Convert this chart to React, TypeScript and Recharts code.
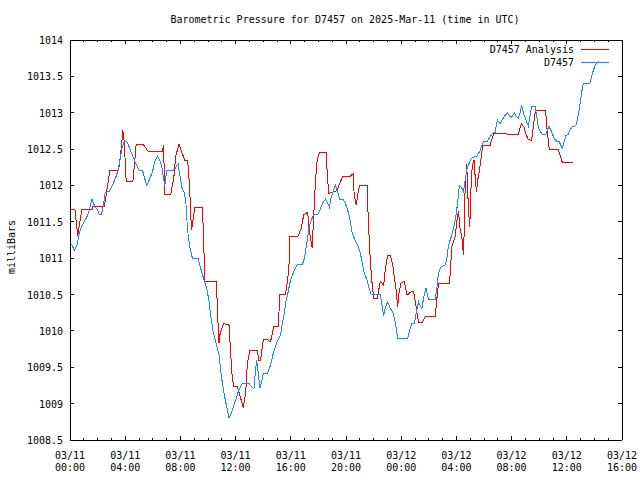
import { LineChart, Line, XAxis, YAxis, Customized } from "recharts";

// hours since 03/11 00:00 UTC
const hourTicks = Array.from({ length: 41 }, (_, i) => i);
const majorHours = [0, 4, 8, 12, 16, 20, 24, 28, 32, 36, 40];
const dateLabels = ["03/11", "03/11", "03/11", "03/11", "03/11", "03/11", "03/12", "03/12", "03/12", "03/12", "03/12"];
const timeLabels = ["00:00", "04:00", "08:00", "12:00", "16:00", "20:00", "00:00", "04:00", "08:00", "12:00", "16:00"];
const pressureTicks = [1008.5, 1009, 1009.5, 1010, 1010.5, 1011, 1011.5, 1012, 1012.5, 1013, 1013.5, 1014];

const seriesNames = ["D7457 Analysis", "D7457"];
const seriesColors = ["#ff0000", "#1a8cff"];

const analysisHours = [
  0.05, 0.36, 0.56, 0.67, 0.87, 1.64, 1.66, 2.48, 2.73, 2.89,
  3.52, 3.62, 3.76, 3.83, 3.93, 4.07, 4.56, 4.7, 4.79, 5.33,
  5.66, 6.7, 6.78, 6.87, 7.3, 7.52, 7.66, 7.9, 8.03, 8.32,
  8.53, 8.66, 8.8, 8.86, 9.04, 9.6, 9.78, 10.61, 10.7, 10.8,
  10.87, 11.11, 11.52, 11.64, 11.76, 11.88, 12.13, 12.36, 12.56, 12.73,
  12.85, 13.04, 13.57, 13.69, 13.81, 14.01, 14.3, 14.53, 14.77, 15.09,
  15.21, 15.62, 15.76, 15.86, 15.93, 16.51, 16.74, 16.94, 17.23, 17.32,
  17.55, 17.64, 17.79, 17.91, 18.08, 18.56, 18.66, 18.75, 19.36, 19.55,
  19.79, 20.32, 20.51, 20.6, 20.75, 20.87, 20.99, 21.53, 21.6, 21.72,
  21.84, 22.0, 22.25, 22.36, 22.49, 22.73, 22.85, 23.02, 23.21, 23.38,
  23.5, 23.64, 23.74, 23.84, 23.98, 24.22, 24.42, 24.73, 24.9, 25.02,
  25.26, 25.5, 25.74, 26.46, 26.59, 26.7, 27.5, 27.6, 27.67, 27.91,
  28.03, 28.15, 28.27, 28.4, 28.51, 28.56, 28.63, 28.75, 28.82, 28.92,
  28.97, 29.04, 29.12, 29.19, 29.28, 29.36, 29.45, 29.55, 29.67, 29.77,
  29.91, 30.44, 30.56, 30.73, 31.6, 31.69, 32.49, 32.61, 32.73, 32.9,
  33.04, 33.21, 33.45, 33.57, 33.7, 33.77, 34.47, 34.54, 34.66, 34.73,
  35.38, 35.5, 35.67, 36.46,
];
const analysisValues = [
  1011.67, 1011.67, 1011.3, 1011.45, 1011.67, 1011.67, 1011.71, 1011.71, 1012.0, 1012.21,
  1012.21, 1012.35, 1012.6, 1012.76, 1012.6, 1012.06, 1012.06, 1012.35, 1012.56, 1012.56,
  1012.47, 1012.47, 1012.55, 1011.88, 1011.88, 1012.1, 1012.4, 1012.57, 1012.5, 1012.34,
  1012.34, 1012.0, 1011.39, 1011.45, 1011.7, 1011.7, 1010.68, 1010.68, 1010.2, 1009.83,
  1009.95, 1010.1, 1010.08, 1009.7, 1009.35, 1009.23, 1009.23, 1009.08, 1008.94, 1009.15,
  1009.55, 1009.73, 1009.73, 1009.6, 1009.6, 1009.88, 1009.88, 1009.85, 1010.06, 1010.06,
  1010.5, 1010.5, 1010.7, 1010.86, 1011.3, 1011.3, 1011.4, 1011.6, 1011.63, 1011.4,
  1011.14, 1011.5, 1012.08, 1012.35, 1012.46, 1012.46, 1012.1, 1011.89, 1011.93, 1012.03,
  1012.13, 1012.13, 1012.16, 1011.85, 1011.73, 1011.9, 1012.0, 1012.0, 1011.6, 1011.11,
  1010.75, 1010.45, 1010.44, 1010.55, 1010.68, 1010.63, 1010.85, 1011.04, 1011.04, 1010.92,
  1010.74, 1010.56, 1010.33, 1010.52, 1010.66, 1010.68, 1010.49, 1010.54, 1010.54, 1010.4,
  1010.11, 1010.11, 1010.2, 1010.2, 1010.45, 1010.65, 1010.65, 1010.95, 1011.16, 1011.3,
  1011.5, 1011.65, 1011.4, 1011.28, 1011.04, 1011.35, 1011.95, 1012.3, 1011.9, 1011.54,
  1011.43, 1011.9, 1012.19, 1012.3, 1012.35, 1012.12, 1011.91, 1012.08, 1012.2, 1012.35,
  1012.55, 1012.55, 1012.63, 1012.72, 1012.72, 1012.7, 1012.7, 1012.79, 1012.85, 1012.8,
  1012.71, 1012.63, 1012.62, 1012.81, 1012.99, 1013.03, 1013.03, 1012.83, 1012.62, 1012.5,
  1012.5, 1012.42, 1012.32, 1012.32,
];

const stationHours = [
  0.0, 0.14, 0.31, 0.51, 0.67, 0.8, 1.03, 1.28, 1.45, 1.59,
  1.76, 2.0, 2.12, 2.29, 2.44, 2.55, 2.84, 3.09, 3.33, 3.49,
  3.64, 3.76, 3.93, 4.12, 4.29, 4.53, 4.77, 5.01, 5.26, 5.42,
  5.57, 5.73, 5.98, 6.15, 6.34, 6.53, 6.65, 6.78, 6.87, 7.01,
  7.43, 7.61, 7.83, 7.95, 8.1, 8.26, 8.39, 8.46, 8.57, 8.7,
  8.87, 9.28, 9.47, 9.71, 9.91, 10.07, 10.2, 10.39, 10.56, 10.8,
  10.92, 11.04, 11.16, 11.35, 11.52, 11.69, 11.84, 12.0, 12.24, 12.49,
  12.96, 13.21, 13.33, 13.4, 13.52, 13.62, 13.76, 13.88, 14.01, 14.3,
  14.53, 14.73, 14.97, 15.26, 15.38, 15.55, 15.62, 15.77, 15.98, 16.22,
  16.46, 16.83, 16.99, 17.14, 17.3, 17.43, 17.66, 17.95, 18.15, 18.32,
  18.51, 18.68, 18.8, 18.92, 19.07, 19.23, 19.36, 19.55, 19.83, 20.08,
  20.27, 20.44, 20.61, 20.85, 21.04, 21.16, 21.33, 21.53, 21.64, 21.82,
  22.49, 22.61, 22.73, 22.85, 23.02, 23.21, 23.4, 23.57, 23.74, 24.47,
  24.6, 24.76, 24.95, 25.09, 25.26, 25.38, 25.5, 25.62, 25.79, 25.98,
  26.46, 26.59, 26.7, 26.88, 27.19, 27.31, 27.43, 27.67, 27.79, 27.96,
  28.08, 28.22, 28.4, 28.51, 28.63, 28.75, 28.87, 29.04, 29.23, 29.48,
  29.72, 29.96, 30.25, 30.44, 30.68, 30.8, 30.97, 31.17, 31.4, 31.69,
  31.88, 32.01, 32.2, 32.32, 32.49, 32.61, 32.73, 32.85, 33.04, 33.21,
  33.33, 33.45, 33.7, 33.82, 33.93, 34.05, 34.25, 34.49, 34.58, 34.71,
  34.9, 35.07, 35.26, 35.45, 35.58, 35.67, 35.79, 35.94, 36.1, 36.22,
  36.42, 36.66, 36.75, 36.9, 37.07, 37.19, 37.67, 37.87, 38.03, 38.2,
  38.32,
];
const stationValues = [
  1011.2, 1011.18, 1011.11, 1011.18, 1011.34, 1011.42, 1011.5, 1011.59, 1011.7, 1011.81,
  1011.73, 1011.66, 1011.6, 1011.6, 1011.75, 1011.9, 1011.92, 1012.01, 1012.12, 1012.21,
  1012.37, 1012.51, 1012.6, 1012.6, 1012.53, 1012.41, 1012.3, 1012.21, 1012.2, 1012.09,
  1012.0, 1012.07, 1012.19, 1012.33, 1012.4, 1012.33, 1012.26, 1012.1, 1012.0, 1012.2,
  1012.2, 1012.23, 1012.3, 1012.15, 1011.98, 1011.91, 1011.8, 1011.55, 1011.3, 1011.14,
  1011.0, 1011.0, 1010.86, 1010.7, 1010.59, 1010.41, 1010.2, 1009.97, 1009.85, 1009.67,
  1009.46, 1009.28, 1009.14, 1008.96, 1008.81, 1008.86, 1008.96, 1009.05, 1009.19, 1009.28,
  1009.28, 1009.22, 1009.2, 1009.37, 1009.6, 1009.46, 1009.21, 1009.3, 1009.41, 1009.41,
  1009.53, 1009.69, 1009.83, 1009.95, 1010.1, 1010.26, 1010.38, 1010.5, 1010.7, 1010.82,
  1010.91, 1010.91, 1011.0, 1011.18, 1011.39, 1011.5, 1011.6, 1011.6, 1011.68, 1011.76,
  1011.81, 1011.75, 1011.7, 1011.83, 1011.92, 1012.0, 1011.93, 1011.81, 1011.8, 1011.69,
  1011.55, 1011.36, 1011.27, 1011.18, 1011.07, 1010.95, 1010.79, 1010.7, 1010.61, 1010.5,
  1010.5, 1010.35, 1010.21, 1010.32, 1010.4, 1010.31, 1010.25, 1010.12, 1009.9, 1009.9,
  1010.0, 1010.1, 1010.1, 1010.25, 1010.4, 1010.35, 1010.31, 1010.45, 1010.59, 1010.43,
  1010.43, 1010.6, 1010.79, 1010.88, 1010.91, 1011.0, 1011.18, 1011.32, 1011.41, 1011.57,
  1011.75, 1012.0, 1011.96, 1011.91, 1012.07, 1012.21, 1012.28, 1012.36, 1012.39, 1012.4,
  1012.48, 1012.6, 1012.61, 1012.67, 1012.73, 1012.73, 1012.9, 1012.85, 1012.93, 1013.0,
  1012.95, 1012.94, 1013.0, 1012.95, 1012.92, 1013.0, 1013.1, 1013.0, 1012.9, 1012.82,
  1012.95, 1013.09, 1013.09, 1012.95, 1012.81, 1012.75, 1012.7, 1012.7, 1012.76, 1012.81,
  1012.74, 1012.65, 1012.61, 1012.6, 1012.55, 1012.51, 1012.59, 1012.69, 1012.7, 1012.76,
  1012.81, 1012.82, 1012.9, 1013.04, 1013.27, 1013.4, 1013.4, 1013.55, 1013.64, 1013.69,
  1013.7,
];

const analysisData = analysisHours.map((t, i) => ({ t, p: analysisValues[i] }));
const stationData = stationHours.map((t, i) => ({ t, p: stationValues[i] }));

const FONT = "DejaVu Sans Mono";
const MAJOR = 4;
const MINOR = 2;

function BottomTick({ x, y, payload }: any) {
  const h = payload.value;
  const i = majorHours.indexOf(h);
  const len = i >= 0 ? MAJOR : MINOR;
  return (
    <g>
      <line x1={x} x2={x} y1={y} y2={y - len} stroke="#000" shapeRendering="crispEdges" />
      {i >= 0 && (
        <text x={x} y={y + 19} textAnchor="middle" fontFamily={FONT} fontSize={10} fill="#000">
          {dateLabels[i]}
        </text>
      )}
      {i >= 0 && (
        <text x={x} y={y + 31} textAnchor="middle" fontFamily={FONT} fontSize={10} fill="#000">
          {timeLabels[i]}
        </text>
      )}
    </g>
  );
}

function TopTick({ x, y, payload }: any) {
  const len = majorHours.includes(payload.value) ? MAJOR : MINOR;
  return <line x1={x} x2={x} y1={y} y2={y + len} stroke="#000" shapeRendering="crispEdges" />;
}

function LeftTick({ x, y, payload }: any) {
  return (
    <g>
      <line x1={x} x2={x + MAJOR} y1={y} y2={y} stroke="#000" shapeRendering="crispEdges" />
      <text x={x - 7} y={y + 4} textAnchor="end" fontFamily={FONT} fontSize={10} fill="#000">
        {String(payload.value)}
      </text>
    </g>
  );
}

function RightTick({ x, y }: any) {
  return <line x1={x} x2={x - MAJOR} y1={y} y2={y} stroke="#000" shapeRendering="crispEdges" />;
}

function Annotations() {
  return (
    <g fontFamily={FONT} fontSize={10} fill="#000">
      <text x={345} y={23} textAnchor="middle">
        Barometric Pressure for D7457 on 2025-Mar-11 (time in UTC)
      </text>
      <text x={15} y={247} textAnchor="middle" transform="rotate(-90 15 247)">
        milliBars
      </text>
      {seriesNames.map((name, i) => (
        <g key={name}>
          <text x={574} y={53 + i * 13} textAnchor="end">
            {name}
          </text>
          <line x1={581} x2={609} y1={49 + i * 13} y2={49 + i * 13} stroke={seriesColors[i]} shapeRendering="crispEdges" />
        </g>
      ))}
    </g>
  );
}

export default function App() {
  return (
    <div style={{ position: "absolute", left: 0, top: 0, width: 640, height: 480, background: "#fff" }}>
      <LineChart width={640} height={480} margin={{ top: 0, right: 0, bottom: 0, left: 0 }}>
        <XAxis
          xAxisId="b"
          type="number"
          dataKey="t"
          domain={[0, 40]}
          allowDataOverflow
          ticks={hourTicks}
          interval={0}
          height={40}
          tickSize={0}
          tickMargin={0}
          tickLine={false}
          axisLine={{ stroke: "#000", shapeRendering: "crispEdges" }}
          tick={<BottomTick />}
        />
        <XAxis
          xAxisId="t"
          orientation="top"
          type="number"
          dataKey="t"
          domain={[0, 40]}
          allowDataOverflow
          ticks={hourTicks}
          interval={0}
          height={40}
          tickSize={0}
          tickMargin={0}
          tickLine={false}
          axisLine={{ stroke: "#000", shapeRendering: "crispEdges" }}
          tick={<TopTick />}
        />
        <YAxis
          yAxisId="l"
          type="number"
          domain={[1008.5, 1014]}
          allowDataOverflow
          ticks={pressureTicks}
          interval={0}
          width={70}
          tickSize={0}
          tickMargin={0}
          tickLine={false}
          axisLine={{ stroke: "#000", shapeRendering: "crispEdges" }}
          tick={<LeftTick />}
        />
        <YAxis
          yAxisId="r"
          orientation="right"
          type="number"
          domain={[1008.5, 1014]}
          allowDataOverflow
          ticks={pressureTicks}
          interval={0}
          width={18}
          tickSize={0}
          tickMargin={0}
          tickLine={false}
          axisLine={{ stroke: "#000", shapeRendering: "crispEdges" }}
          tick={<RightTick />}
        />
        <Line
          data={analysisData}
          xAxisId="b"
          yAxisId="l"
          dataKey="p"
          name={seriesNames[0]}
          type="linear"
          stroke={seriesColors[0]}
          strokeWidth={1}
          shapeRendering="crispEdges"
          dot={false}
          isAnimationActive={false}
        />
        <Line
          data={stationData}
          xAxisId="b"
          yAxisId="l"
          dataKey="p"
          name={seriesNames[1]}
          type="linear"
          stroke={seriesColors[1]}
          strokeWidth={1}
          shapeRendering="crispEdges"
          dot={false}
          isAnimationActive={false}
        />
        <Customized component={Annotations} />
      </LineChart>
    </div>
  );
}
